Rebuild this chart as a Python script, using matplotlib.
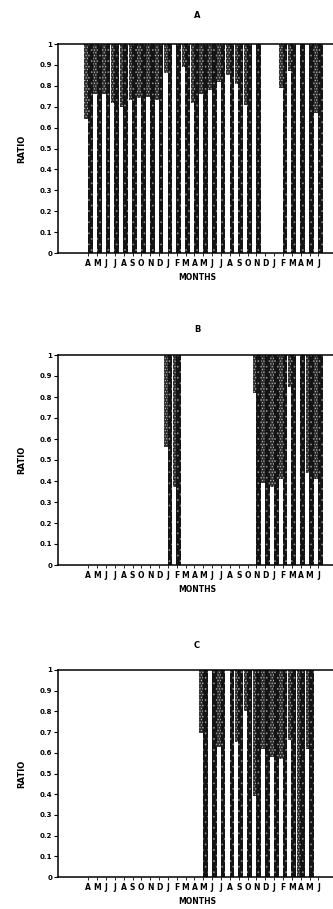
import matplotlib
matplotlib.use("Agg")
import matplotlib.pyplot as plt
import numpy as np

# ---- data ----
months = ["A", "M", "J", "J", "A", "S", "O", "N", "D", "J", "F", "M", "A", "M",
          "J", "J", "A", "S", "O", "N", "D", "J", "F", "M", "A", "M", "J"]
yticks = [0, 0.1, 0.2, 0.3, 0.4, 0.5, 0.6, 0.7, 0.8, 0.9, 1]
ytick_labels = ["0", "0.1", "0.2", "0.3", "0.4", "0.5", "0.6", "0.7", "0.8", "0.9", "1"]

ratio_A = [0.64, 0.76, 0.76, 0.72, 0.70, 0.73, 0.74, 0.745, 0.73, 0.86, 1.0,
           0.89, 0.72, 0.76, 0.78, 0.82, 0.85, 0.81, 0.71, 1.0, None, None,
           0.79, 0.87, 1.0, 1.0, 0.67]
ratio_B = [None] * 9 + [0.56, 0.37] + [None] * 8 + \
          [0.82, 0.39, 0.37, 0.41, 0.85, 1.0, 0.44, 0.41]
ratio_C = [None] * 13 + [0.695, 1.0, 0.63, 1.0, 0.65, 0.80, 0.39, 0.62,
                         0.58, 0.57, 0.66, 0.0, 0.62, None]

panel_names = ["A", "B", "C"]
panel_data = [ratio_A, ratio_B, ratio_C]

# ---- layout (pixels) ----
W, H = 333, 909
panel_tops = [44, 355, 670]
panel_bottoms = [253, 565, 877]
title_y = [16, 330, 646]
left_px = 58
slot_px = 8.85

plt.rcParams["hatch.linewidth"] = 0.5
fig = plt.figure(figsize=(W / 100, H / 100), dpi=100)

for name, data, top, bot, ty in zip(panel_names, panel_data, panel_tops,
                                     panel_bottoms, title_y):
    ax_w_px = (W - left_px) + 4
    ax = fig.add_axes([left_px / W, 1 - bot / H, ax_w_px / W, (bot - top) / H])
    x0 = -3.42
    ax.set_xlim(x0, x0 + ax_w_px / slot_px)
    ax.set_ylim(0, 1)

    idx = np.array([i for i, v in enumerate(data) if v is not None])
    vals = np.array([data[i] for i in idx], dtype=float)

    # dark side / shadow column
    ax.bar(idx + 0.23, np.ones_like(vals), width=0.54, color="#141414",
           edgecolor="#8a8a8a", hatch="...", linewidth=0, zorder=1)
    # white (ratio) segment
    ax.bar(idx - 0.24, vals, width=0.40, facecolor="white",
           edgecolor="black", linewidth=0, zorder=2)
    # stippled remainder
    ax.bar(idx - 0.24, 1 - vals, bottom=vals, width=0.40,
           facecolor="#2e2e2e", edgecolor="#bbbbbb", hatch="......",
           linewidth=0, zorder=2)

    ax.spines["right"].set_visible(False)
    for s in ("top", "left", "bottom"):
        ax.spines[s].set_linewidth(1.1)
        ax.spines[s].set_zorder(5)

    ax.set_yticks(yticks)
    ax.set_yticklabels(ytick_labels, fontsize=5, fontweight="bold")
    ax.tick_params(axis="y", direction="out", length=3, width=0.8, pad=1)
    ax.set_xticks(np.arange(len(months)))
    ax.set_xticklabels(months, fontsize=5.5, fontweight="bold")
    ax.tick_params(axis="x", direction="out", length=2, width=0.6, pad=2)

    fig.text(197 / W, 1 - ty / H, name, ha="center", va="center",
             fontsize=6, fontweight="bold")
    fig.text(22 / W, 1 - (top + bot) / 2 / H, "RATIO", rotation=90,
             ha="center", va="center", fontsize=6, fontweight="bold")
    fig.text(197 / W, 1 - (bot + 24) / H, "MONTHS", ha="center", va="center",
             fontsize=5.5, fontweight="bold")

fig.savefig("out.png", dpi=100, facecolor="white")
